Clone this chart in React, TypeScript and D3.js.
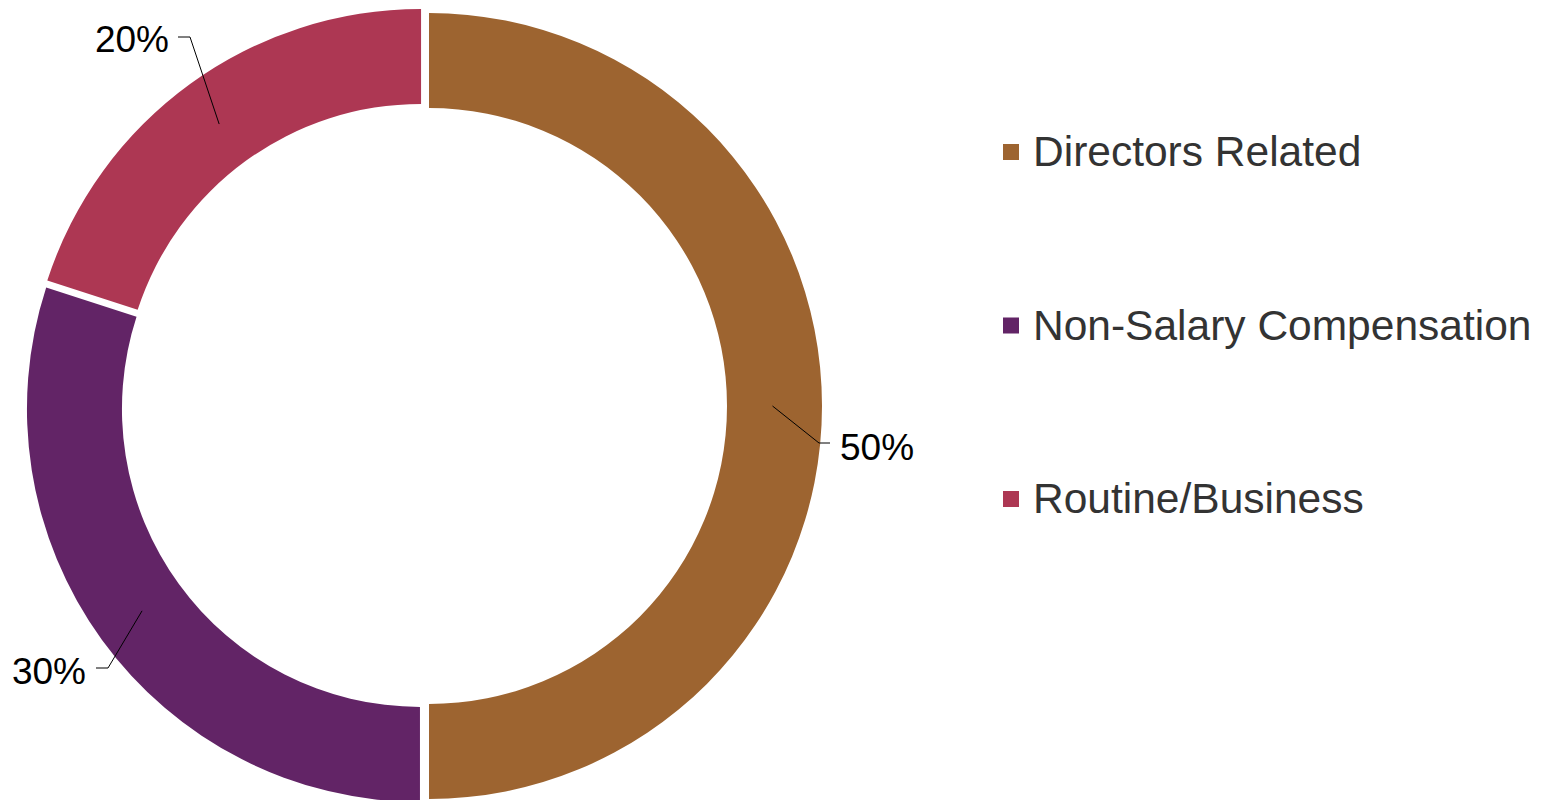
import React from "react";
import * as d3 from "d3";

// chart data
const categories = ["Directors Related", "Non-Salary Compensation", "Routine/Business"];
const values = [50, 30, 20];
const labels = ["50%", "30%", "20%"];
const colors = ["#9D6430", "#622466", "#AD3753"];

// label elbow / text positions (set by hand, like the original)
const labelLayout = [
  { elbow: [819, 443], end: [830, 443], text: [840, 460], anchor: "start" },
  { elbow: [108, 668], end: [96, 668], text: [86, 684], anchor: "end" },
  { elbow: [190, 37], end: [178, 37], text: [169, 52], anchor: "end" },
];

const width = 1548;
const height = 800;
const cx = 424;
const cy = 406;
const outerR = 393;
const innerR = 298;
const explode = 5;
const font = "'Liberation Sans', Arial, sans-serif";

const App: React.FC = () => {
  const pie = d3
    .pie<number>()
    .sort(null)
    .value((d) => d);
  const arcs = pie(values);

  const arc = d3
    .arc<d3.PieArcDatum<number>>()
    .innerRadius(innerR)
    .outerRadius(outerR);

  const legendY = d3
    .scalePoint<string>()
    .domain(categories)
    .range([152, 499]);

  return (
    <svg
      width={width}
      height={height}
      style={{ position: "absolute", left: 0, top: 0, background: "#fff" }}
    >
      <g transform={`translate(${cx},${cy})`}>
        {arcs.map((a, i) => {
          const mid = (a.startAngle + a.endAngle) / 2;
          const dx = Math.sin(mid) * explode;
          const dy = -Math.cos(mid) * explode;
          return (
            <path
              key={categories[i]}
              d={arc(a) ?? ""}
              fill={colors[i]}
              transform={`translate(${dx},${dy})`}
            />
          );
        })}
      </g>

      {/* data labels with leader lines */}
      {arcs.map((a, i) => {
        const mid = (a.startAngle + a.endAngle) / 2;
        const rm = (innerR + outerR) / 2 + 3;
        const sx = cx + Math.sin(mid) * rm;
        const sy = cy - Math.cos(mid) * rm;
        const l = labelLayout[i];
        return (
          <g key={labels[i]}>
            <polyline
              points={`${sx},${sy} ${l.elbow[0]},${l.elbow[1]} ${l.end[0]},${l.end[1]}`}
              fill="none"
              stroke="#000"
              strokeWidth={1}
            />
            <text
              x={l.text[0]}
              y={l.text[1]}
              textAnchor={l.anchor as any}
              fontFamily={font}
              fontSize={37}
              fill="#000"
            >
              {labels[i]}
            </text>
          </g>
        );
      })}

      {/* legend */}
      {categories.map((c, i) => {
        const y = legendY(c) ?? 0;
        return (
          <g key={c}>
            <rect x={1003} y={y - 8} width={16} height={16} fill={colors[i]} />
            <text
              x={1033}
              y={y + 14}
              fontFamily={font}
              fontSize={42.5}
              fill="#333333"
            >
              {c}
            </text>
          </g>
        );
      })}
    </svg>
  );
};

export default App;
